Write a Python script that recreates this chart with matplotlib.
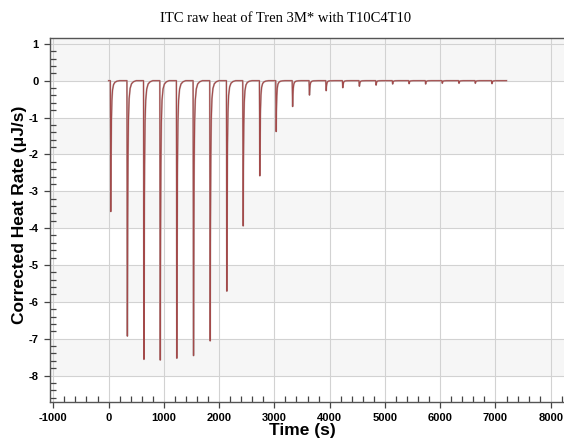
import matplotlib.pyplot as plt
from matplotlib.ticker import MultipleLocator

# injection times (s) and peak minima (uJ/s)
inj_time = [40, 340, 640, 935, 1235, 1537, 1838, 2140, 2435, 2737, 3032, 3330,
            3635, 3937, 4238, 4538, 4840, 5140, 5437, 5737, 6038, 6340, 6636, 6937]
peak_depth = [-3.55, -6.93, -7.56, -7.58, -7.53, -7.46, -7.06, -5.71, -3.94, -2.58, -1.38, -0.70,
              -0.39, -0.27, -0.19, -0.15, -0.12, -0.09, -0.08, -0.09, -0.07, -0.07, -0.07, -0.08]
run_start, run_end = 0, 7200

# shape of one injection spike: offset from the minimum (s), fraction of peak depth
shape_dt = [-8, 0, 6, 12, 20, 32, 50, 75, 110, 160]
shape_frac = [0, 1, 0.55, 0.3, 0.15, 0.07, 0.03, 0.012, 0.004, 0]

t = [run_start]
y = [0.0]
for t0, d in zip(inj_time, peak_depth):
    for dt, f in zip(shape_dt, shape_frac):
        t.append(t0 + dt)
        y.append(d * f)
t.append(run_end)
y.append(0.0)

plt.rcParams['font.family'] = ['Liberation Sans', 'DejaVu Sans']
plt.rcParams['axes.unicode_minus'] = False

fig = plt.figure(figsize=(5.64, 4.4), dpi=100)
ax = fig.add_axes([49.5 / 564, 38.5 / 440, 1 - 49.5 / 564, (401.5 - 38.3) / 440])

ax.set_xlim(-1069, 8240)
ax.set_ylim(-8.705, 1.15)

# alternating background bands
ax.axhspan(0, 1.15, color='#f6f6f6', lw=0, zorder=0)
for top in [-1, -3, -5, -7]:
    ax.axhspan(top - 1, top, color='#f6f6f6', lw=0, zorder=0)

ax.grid(True, which='major', color='#d2d2d2', lw=0.8, zorder=1)

ax.plot(t, y, color='#c4b6b6', lw=1.3, zorder=2)
ax.plot(t, y, color='#a34a4a', lw=0.8, zorder=3)

ax.xaxis.set_major_locator(MultipleLocator(1000))
ax.xaxis.set_minor_locator(MultipleLocator(200))
ax.yaxis.set_major_locator(MultipleLocator(1))
ax.yaxis.set_minor_locator(MultipleLocator(0.2))

ax.tick_params(which='major', direction='out', length=4, width=0.9, color='#444444', pad=4)
ax.tick_params(which='minor', direction='in', length=4, width=0.9, color='#444444')
ax.tick_params(which='minor', axis='x', length=4.5)
ax.tick_params(axis='both', labelsize=8)
for lab in ax.get_xticklabels() + ax.get_yticklabels():
    lab.set_fontweight('bold')

for side in ['left', 'top', 'bottom']:
    ax.spines[side].set_color('#555555')
    ax.spines[side].set_linewidth(1.0)
ax.spines['right'].set_visible(False)

fig.text(20 / 564, 1 - 215 / 440, 'Corrected Heat Rate (\u03bcJ/s)', rotation=90,
         ha='center', va='center', fontsize=12.5, fontweight='bold')
fig.text(302 / 564, 1 - 430 / 440, 'Time (s)', ha='center', va='center',
         fontsize=12.5, fontweight='bold')
fig.text(286 / 564, 1 - 18 / 440, 'ITC raw heat of Tren 3M* with T10C4T10',
         ha='center', va='center', fontsize=10.5, family=['Liberation Serif', 'DejaVu Serif'])

fig.savefig('out.png', dpi=100)
